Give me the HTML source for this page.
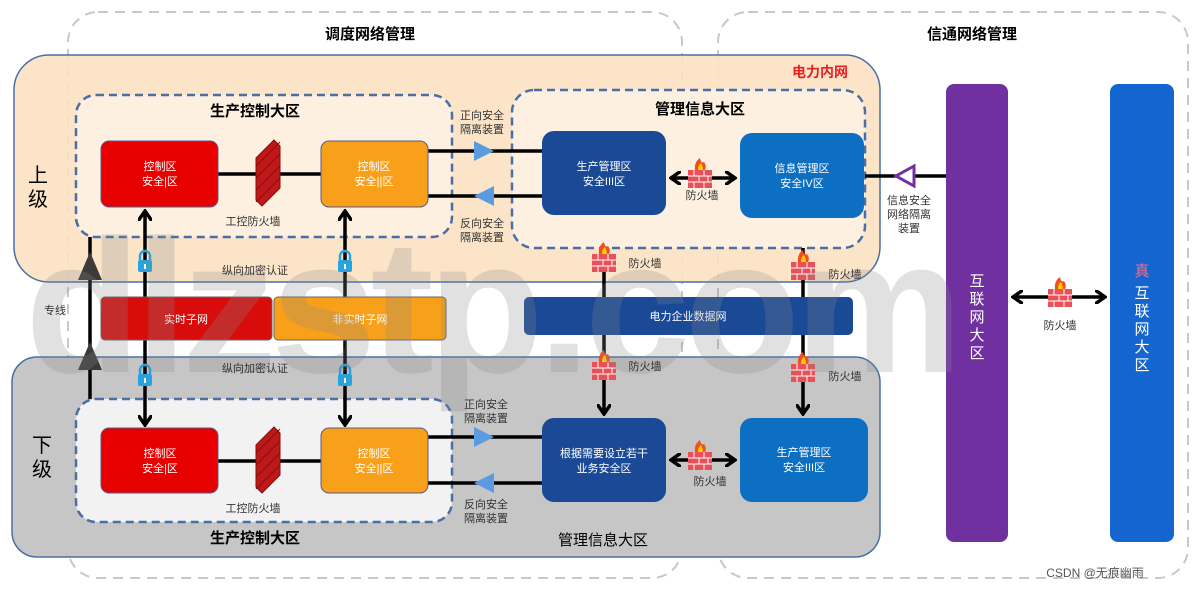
<!DOCTYPE html>
<html><head><meta charset="utf-8"><style>body{margin:0;background:#fff}svg{display:block}text{font-family:"Liberation Sans","Noto Sans CJK SC",sans-serif}</style></head><body>
<svg width="1200" height="591" viewBox="0 0 1200 591" xmlns="http://www.w3.org/2000/svg">
<defs>
<marker id="ah" markerWidth="12" markerHeight="14" refX="9" refY="7" orient="auto-start-reverse" markerUnits="userSpaceOnUse"><path d="M0,0 L10,7 L0,14" fill="none" stroke="#000" stroke-width="3.5"/></marker>
<g id="fw"><rect x="-12" y="-8" width="24" height="18" fill="#e8505a"/><path d="M-12,-2H12M-12,4H12M-6,-8V-2M4,-8V-2M-1,-2V4M8,-2V4M-6,4V10M4,4V10" stroke="#fff" stroke-width="1"/><path d="M-5,-8 Q-6,-16 0,-20 Q1,-14 4,-16 Q7,-12 5,-8Z" fill="#f05020"/><path d="M-2,-8 Q-2,-13 1,-15 Q3,-11 3,-8Z" fill="#fc0"/></g>
<g id="lock"><path d="M-5,-3 V-7 A5,5 0 0 1 5,-7 V-3" fill="none" stroke="#29a3dd" stroke-width="2.5"/><rect x="-7" y="-3" width="14" height="12" rx="2" fill="#29a3dd"/><rect x="-1" y="1" width="2" height="5" fill="#fff"/></g>
<g id="bfw"><path d="M-12,-10 L6,-28 L12,-22 L12,20 L-6,38 L-12,32 Z" fill="#c01818" stroke="#801010"/><path d="M-12,-2 L12,-26 M-12,10 L12,-14 M-12,22 L12,-2 M-12,34 L12,10" stroke="#801010" stroke-width="1"/></g>
</defs>
<!-- outer dashed -->
<rect x="68" y="12" width="614" height="566" rx="30" fill="none" stroke="#c8c8c8" stroke-width="2" stroke-dasharray="10,7"/>
<rect x="718" y="12" width="470" height="566" rx="30" fill="none" stroke="#c8c8c8" stroke-width="2" stroke-dasharray="10,7"/>
<text x="370" y="39" font-size="15" font-weight="bold" text-anchor="middle">调度网络管理</text>
<text x="972" y="39" font-size="15" font-weight="bold" text-anchor="middle">信通网络管理</text>
<!-- upper -->
<rect x="14" y="55" width="866" height="227" rx="35" fill="#fbe1c2" fill-opacity="0.9" stroke="#4a6fa5" stroke-width="1.5"/>
<text x="820" y="77" font-size="14" font-weight="bold" fill="#e82020" text-anchor="middle">电力内网</text>
<text x="38" y="182" font-size="20" text-anchor="middle">上</text><text x="38" y="206" font-size="20" text-anchor="middle">级</text>
<rect x="76" y="95" width="376" height="142" rx="20" fill="#fdf0e0" stroke="#4a6fa5" stroke-width="2.5" stroke-dasharray="8,5"/>
<text x="255" y="116" font-size="15" font-weight="bold" text-anchor="middle">生产控制大区</text>
<rect x="512" y="90" width="353" height="158" rx="22" fill="#fdf0e0" stroke="#4a6fa5" stroke-width="2.5" stroke-dasharray="8,5"/>
<text x="700" y="114" font-size="15" font-weight="bold" text-anchor="middle">管理信息大区</text>
<!-- lower -->
<rect x="12" y="357" width="868" height="200" rx="25" fill="#c6c6c6" stroke="#4a6fa5" stroke-width="1.5"/>
<text x="42" y="452" font-size="20" text-anchor="middle">下</text><text x="42" y="476" font-size="20" text-anchor="middle">级</text>
<rect x="76" y="399" width="376" height="123" rx="20" fill="#f2f2f2" stroke="#4a6fa5" stroke-width="2.5" stroke-dasharray="8,5"/>
<text x="255" y="543" font-size="15" font-weight="bold" text-anchor="middle">生产控制大区</text>
<text x="603" y="545" font-size="15" text-anchor="middle">管理信息大区</text>
<!-- lines -->
<g stroke="#000" stroke-width="3.5">
<line x1="218" y1="174" x2="321" y2="174"/><line x1="428" y1="151" x2="542" y2="151"/><line x1="428" y1="196" x2="542" y2="196"/>
<line x1="865" y1="176" x2="946" y2="176"/>
<line x1="218" y1="461" x2="321" y2="461"/><line x1="428" y1="437" x2="542" y2="437"/><line x1="428" y1="483" x2="542" y2="483"/>
<line x1="90" y1="237" x2="90" y2="399"/>
<line x1="145" y1="297" x2="145" y2="212" marker-end="url(#ah)"/><line x1="345" y1="297" x2="345" y2="212" marker-end="url(#ah)"/>
<line x1="145" y1="340" x2="145" y2="424" marker-end="url(#ah)"/><line x1="345" y1="340" x2="345" y2="424" marker-end="url(#ah)"/>
<line x1="604" y1="248" x2="604" y2="297"/><line x1="803" y1="248" x2="803" y2="297"/>
<line x1="604" y1="335" x2="604" y2="413" marker-end="url(#ah)"/><line x1="803" y1="335" x2="803" y2="413" marker-end="url(#ah)"/>
<line x1="672" y1="178" x2="734" y2="178" marker-start="url(#ah)" marker-end="url(#ah)"/>
<line x1="672" y1="460" x2="734" y2="460" marker-start="url(#ah)" marker-end="url(#ah)"/>
<line x1="1014" y1="297" x2="1104" y2="297" marker-start="url(#ah)" marker-end="url(#ah)"/>
</g>
<!-- boxes -->
<g font-size="11" fill="#fff" text-anchor="middle">
<rect x="101" y="141" width="117" height="66" rx="8" fill="#e60000" stroke="#5a5a8a"/><text x="160" y="170">控制区</text><text x="160" y="185">安全|区</text>
<rect x="321" y="141" width="107" height="66" rx="8" fill="#f9a01b" stroke="#5a5a8a"/><text x="374" y="170">控制区</text><text x="374" y="185">安全||区</text>
<rect x="542" y="131" width="124" height="84" rx="12" fill="#1a4a96"/><text x="604" y="170">生产管理区</text><text x="604" y="185">安全III区</text>
<rect x="740" y="133" width="124" height="85" rx="12" fill="#0d6fc2"/><text x="802" y="172">信息管理区</text><text x="802" y="187">安全IV区</text>
<rect x="101" y="428" width="117" height="65" rx="8" fill="#e60000" stroke="#5a5a8a"/><text x="160" y="457">控制区</text><text x="160" y="472">安全|区</text>
<rect x="321" y="428" width="107" height="65" rx="8" fill="#f9a01b" stroke="#5a5a8a"/><text x="374" y="457">控制区</text><text x="374" y="472">安全||区</text>
<rect x="542" y="418" width="124" height="84" rx="12" fill="#1a4a96"/><text x="604" y="457">根据需要设立若干</text><text x="604" y="472">业务安全区</text>
<rect x="740" y="418" width="128" height="84" rx="12" fill="#0d6fc2"/><text x="804" y="456">生产管理区</text><text x="804" y="471">安全III区</text>
<rect x="101" y="297" width="171" height="43" rx="4" fill="#d90c0c" stroke="#666"/><text x="186" y="323">实时子网</text>
<rect x="274" y="297" width="172" height="43" rx="4" fill="#f9a01b" stroke="#666"/><text x="360" y="323">非实时子网</text>
<rect x="524" y="297" width="329" height="38" rx="5" fill="#1a4a96"/><text x="688" y="320">电力企业数据网</text>
<rect x="946" y="84" width="62" height="458" rx="8" fill="#7030a0"/>
<rect x="1110" y="84" width="64" height="458" rx="8" fill="#1565d0"/>
</g>
<g font-size="15" fill="#fff" text-anchor="middle">
<text x="977" y="286">互</text><text x="977" y="304">联</text><text x="977" y="322">网</text><text x="977" y="340">大</text><text x="977" y="358">区</text>
<text x="1142" y="276" fill="#f07090">真</text><text x="1142" y="298">互</text><text x="1142" y="316">联</text><text x="1142" y="334">网</text><text x="1142" y="352">大</text><text x="1142" y="370">区</text>
</g>
<!-- triangles -->
<path d="M474,141 L494,151 L474,161Z" fill="#5b9be0"/><path d="M494,186 L474,196 L494,206Z" fill="#5b9be0"/>
<path d="M474,427 L494,437 L474,447Z" fill="#5b9be0"/><path d="M494,473 L474,483 L494,493Z" fill="#5b9be0"/>
<path d="M914,166 L896,176 L914,186Z" fill="#fff" stroke="#7030a0" stroke-width="3"/>
<path d="M90,252 L102,280 L78,280Z" fill="#3a3a3a"/><path d="M90,342 L102,370 L78,370Z" fill="#3a3a3a"/>
<use href="#bfw" x="268" y="168"/><use href="#bfw" x="268" y="455"/>
<use href="#fw" x="700" y="178"/><use href="#fw" x="700" y="460"/><use href="#fw" x="1060" y="297"/>
<use href="#fw" x="604" y="262"/><use href="#fw" x="803" y="270"/><use href="#fw" x="604" y="370"/><use href="#fw" x="803" y="372"/>
<use href="#lock" x="145" y="263"/><use href="#lock" x="345" y="263"/><use href="#lock" x="145" y="377"/><use href="#lock" x="345" y="377"/>
<!-- watermark overlay -->
<text x="25" y="372" font-size="190" font-weight="bold" fill="#888" fill-opacity="0.25" letter-spacing="-6">dlzstp.com</text>
<g font-size="11" fill="#333" text-anchor="middle">
<text x="253" y="225">工控防火墙</text><text x="253" y="512">工控防火墙</text>
<text x="255" y="274">纵向加密认证</text><text x="255" y="372">纵向加密认证</text>
<text x="55" y="314">专线</text>
<text x="482" y="119">正向安全</text><text x="482" y="133">隔离装置</text>
<text x="482" y="227">反向安全</text><text x="482" y="241">隔离装置</text>
<text x="486" y="408">正向安全</text><text x="486" y="422">隔离装置</text>
<text x="486" y="508">反向安全</text><text x="486" y="522">隔离装置</text>
<text x="702" y="199">防火墙</text><text x="710" y="485">防火墙</text><text x="1060" y="329">防火墙</text>
<text x="645" y="267">防火墙</text><text x="845" y="278">防火墙</text><text x="645" y="370">防火墙</text><text x="845" y="380">防火墙</text>
<text x="909" y="204">信息安全</text><text x="909" y="218">网络隔离</text><text x="909" y="232">装置</text>
<text x="1095" y="577" font-size="12" fill="#555">CSDN @无痕幽雨</text>
</g>
</svg>
</body></html>
